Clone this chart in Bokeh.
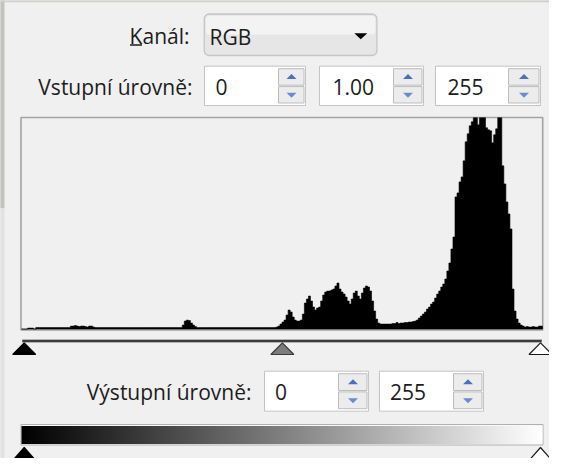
import numpy as np
from bokeh.plotting import figure
from bokeh.models import Range1d, BoxAnnotation, LinearColorMapper
from bokeh.embed import file_html
from bokeh.resources import INLINE
from bokeh.core.properties import value

# ---------------- data ----------------
channel_label = "Kanál:"
channel = "RGB"
input_label = "Vstupní úrovně:"
output_label = "Výstupní úrovně:"
input_black, input_gamma, input_white = 0, 1.00, 255
output_black, output_white = 0, 255
levels = list(range(256))
# histogram heights (frame height = 211 units, taller peaks are clipped)
hist_counts = [
    0, 0, 0, 1, 1, 1, 0,
    1.5, 1.5, 1.5, 1.5, 1.5, 1.5, 1.5, 1.5, 1.5, 1.5, 1.5, 1.5, 1.5, 1.5, 1.5, 1.5, 1.5,
    3, 3, 3.5, 3, 2.5, 3, 3, 2.5, 2, 3, 3, 2,
    1.5, 1.5, 1.5, 1.5, 1.5, 1.5, 1.5, 1.5, 1.5, 1.5, 1.5, 1.5, 1.5, 1.5, 1.5,
    1.5, 1.5, 1.5, 1.5, 1.5, 1.5, 1.5, 1.5, 1.5, 1.5, 1.5, 1.5, 1.5, 1.5, 1.5,
    1.5, 1.5, 1.5, 1.5, 1.5, 1.5, 1.5, 1.5, 1.5, 1.5, 1.5, 1.5, 1.5,
    4, 8, 9, 8.5, 6, 4, 2.5,
    1.5, 1.5, 1.5, 1.5, 1.5, 1.5, 1.5, 1.5, 1.5, 1.5, 1.5, 1.5, 1.5, 1.5, 1.5,
    1.5, 1.5, 1.5, 1.5, 1.5, 1.5, 1.5, 1.5, 1.5, 1.5, 1.5, 1.5, 1.5, 1.5, 1.5,
    1.5, 1.5, 1.5, 1.5, 1.5, 1.5, 1.5, 1.5, 1.5,
    2, 3, 5, 7, 9, 14, 19, 17, 12, 9, 8, 8, 9, 15, 26, 30, 33, 28, 22, 19,
    21, 22, 28, 34, 37, 38, 38, 39, 40, 43, 46, 40, 37, 35, 32, 28, 25, 30, 36, 38,
    33, 30, 36, 41, 43, 42, 38, 28, 18, 10, 6, 5,
    5, 5, 5, 5, 5, 5.5, 5.5, 6.5, 5.5, 6, 6, 6.5, 6.5, 7, 7, 7.5, 8, 9,
    11, 13, 15, 17, 20, 22, 25, 27, 31, 35, 38, 42, 45, 50, 58, 66, 80, 92, 132, 136,
    147, 152, 168, 187, 195, 203, 207, 215, 215, 204, 214, 216, 214, 201, 199, 198, 186, 194, 200, 214,
    214, 163, 145, 127, 115, 100, 40, 18, 10, 6, 4, 3, 2, 2.5, 2, 2, 2.5, 2, 2, 3, 3,
]
assert len(hist_counts) == 256

# ---------------- layout / style ----------------
DIALOG = "#f0f0f0"
FONT = value("Open Sans")
FS = "21px"
TXT = "#1c1c1c"

W, H = 549, 458
X0, X1 = 8.0, 557.0
Y0, Y1 = 10.0, 468.0

p = figure(width=W, height=H, x_range=Range1d(X0, X1), y_range=Range1d(Y1, Y0),
           output_backend="svg", toolbar_location=None,
           x_axis_type=None, y_axis_type=None, min_border=0,
           background_fill_color=DIALOG, border_fill_color=DIALOG,
           outline_line_color=None)

# histogram box geometry
HL, HR = 29.0, 550.0
HT, HB = 127.3, 338.6
YMAX = 211.0
kx = 256.0 / (HR - HL)
ky = YMAX / (HB - HT)
# slider geometry (level 0 and 255 positions)
SL0, SL1 = 31.7, 548.0
kl = 255.0 / (SL1 - SL0)
p.extra_x_ranges = {
    "bin": Range1d((X0 - HL) * kx, (X1 - HL) * kx),
    "level": Range1d((X0 - SL0) * kl, (X1 - SL0) * kl),
}
p.extra_y_ranges = {"count": Range1d((HB - Y1) * ky, (HB - Y0) * ky)}

# background strips (blurred desktop)
p.quad(left=[X0], right=[11.5], top=[Y0], bottom=[218], color="#c2c3be")
p.quad(left=[X0], right=[11.5], top=[218], bottom=[Y1], color="#e2e2e2")
p.quad(left=[X0], right=[X1], top=[Y0], bottom=[11.3], color="#cfcfcb")


def text(x, y, s, align="left"):
    p.text(x=[x], y=[y], text=[s], text_font=FONT, text_font_size=FS,
           text_align=align, text_baseline="middle", text_color=TXT)


def tri_patch(cx, cy, w, h, up):
    if up:
        return [cx - w / 2, cx + w / 2, cx], [cy + h / 2, cy + h / 2, cy - h / 2]
    return [cx - w / 2, cx + w / 2, cx], [cy - h / 2, cy - h / 2, cy + h / 2]


def spin_box(xl, xs, xr, yt, yb, s, tx):
    p.quad(left=[xl], right=[xr], top=[yt], bottom=[yb], fill_color="white",
           line_color="#c4c4c4", line_width=1)
    ym = (yt + yb) / 2
    p.quad(left=[xs + 1, xs + 1], right=[xr - 1.5, xr - 1.5], top=[yt + 2.5, ym + 0.7],
           bottom=[ym - 0.7, yb - 2.5], fill_color="#ececec", line_color="#bdbdbd", line_width=1)
    ax1, ay1 = tri_patch((xs + xr) / 2, (yt + ym) / 2 + 0.5, 10, 5, True)
    ax2, ay2 = tri_patch((xs + xr) / 2, (ym + yb) / 2 - 0.5, 10, 5, False)
    p.patches(xs=[ax1, ax2], ys=[ay1, ay2], fill_color=["#4e6ec2", "#6c8ad4"], line_color=None)
    text(tx, ym + 1, s)


# ---- channel row ----
text(197, 45, channel_label, "right")
p.segment(x0=[137.5], x1=[149.5], y0=[54.5], y1=[54.5], line_color=TXT, line_width=1.3)
p.add_layout(BoxAnnotation(left=211.7, right=384.5, top=23.5, bottom=65, fill_color="#e6e6e6",
                           fill_alpha=1, line_color="#707070", line_width=1.3, border_radius=5,
                           level="underlay"))
p.add_layout(BoxAnnotation(left=213.5, right=382.7, top=25.2, bottom=44, fill_color="#f3f3f3",
                           fill_alpha=1, line_color=None, border_radius=3, level="underlay"))
text(217, 46, channel)
dx, dy = tri_patch(368.3, 45.8, 13, 6, False)
p.patch(dx, dy, fill_color="black", line_color=None)

# ---- input levels row ----
text(200, 96, input_label, "right")
YT, YB = 75.7, 115.0
spin_box(212, 285, 313, YT, YB, f"{input_black:d}", 223)
spin_box(327, 400, 431, YT, YB, f"{input_gamma:.2f}", 340)
spin_box(443, 515, 548, YT, YB, f"{input_white:d}", 455)

# ---- histogram (one step-shaped area, no seams) ----
p.quad(left=[28.5], right=[550.2], top=[127], bottom=[339.5], fill_color=None,
       line_color="#a3a3a3", line_width=1.6)
edges = np.arange(257, dtype=float)
tops = np.minimum(np.array(hist_counts, dtype=float), YMAX)
step_x = np.concatenate([[0.0], np.repeat(edges, 2)[1:-1], [256.0]])
step_y = np.concatenate([[0.0], np.repeat(tops, 2), [0.0]])
p.patch(step_x, step_y, x_range_name="bin", y_range_name="count",
        fill_color="black", line_color="black", line_width=0.6)

# ---- input slider ----
p.quad(left=[29.5], right=[549.5], top=[348.8], bottom=[352.2], fill_color="#a0a0a0", line_color=None)
p.segment(x0=[30], x1=[549], y0=[350.5], y1=[350.5], line_color="#3c3c3c", line_width=2)
mid = input_black + (input_white - input_black) * 0.5 ** input_gamma
hw = 11.5 * kl
pos = [input_black, mid, input_white]
p.patches(xs=[[L - hw, L + hw, L] for L in pos], ys=[[364, 364, 352.3]] * 3,
          x_range_name="level", fill_color=["black", "#7c7c7c", "white"],
          line_color=["black", "#3a3a3a", "#1a1a1a"], line_width=1.2)

# ---- output levels row ----
text(259, 401, output_label, "right")
YT2, YB2 = 380.7, 420.7
spin_box(272, 345, 376, YT2, YB2, f"{output_black:d}", 282.5)
spin_box(387, 460, 491, YT2, YB2, f"{output_white:d}", 397.5)

# ---- gradient bar ----
p.quad(left=[28.5], right=[550.5], top=[434], bottom=[454.5], fill_color="#fafafa",
       line_color="#b0b0b0", line_width=1)
grays = ["#%02x%02x%02x" % (v, v, v) for v in levels]
mapper = LinearColorMapper(palette=grays, low=0, high=255)
p.image(image=[np.array([levels], dtype=float)], x=0, y=435.5, dw=256, dh=18,
        x_range_name="bin", color_mapper=mapper)

# ---- output slider ----
outpos = [output_black, output_white]
p.patches(xs=[[L - hw, L + hw, L] for L in outpos], ys=[[470, 470, 457]] * 2,
          x_range_name="level", fill_color=["black", "white"],
          line_color=["black", "#1a1a1a"], line_width=1.2)

open("out.html", "w").write(file_html(p, INLINE))
